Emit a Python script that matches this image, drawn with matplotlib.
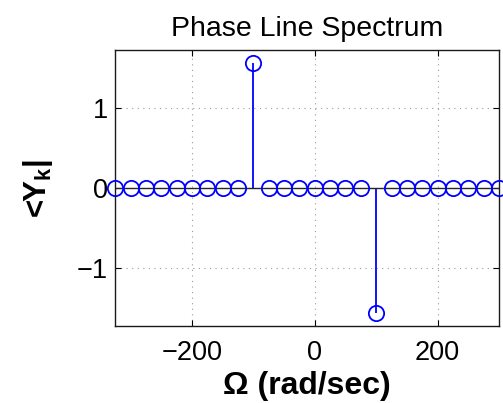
import matplotlib
matplotlib.use("Agg")
import matplotlib.pyplot as plt

# harmonic frequencies (rad/sec) and phase of Y_k (rad)
omega = [-325, -300, -275, -250, -225, -200, -175, -150, -125, -100,
         -75, -50, -25, 0, 25, 50, 75, 100,
         125, 150, 175, 200, 225, 250, 275, 300]
phase = [0, 0, 0, 0, 0, 0, 0, 0, 0, 1.5708,
         0, 0, 0, 0, 0, 0, 0, -1.5708,
         0, 0, 0, 0, 0, 0, 0, 0]

xticks = [-200, 0, 200]
yticks = [-1, 0, 1]

plt.rcParams["font.family"] = ["Liberation Sans", "DejaVu Sans"]
plt.rcParams["mathtext.fontset"] = "custom"
plt.rcParams["mathtext.rm"] = "Liberation Sans"
plt.rcParams["mathtext.bf"] = "Liberation Sans:bold"
plt.rcParams["axes.unicode_minus"] = True

fig = plt.figure(figsize=(5.03, 4.03), dpi=100)
ax = fig.add_axes([0.229, 0.191, 0.763, 0.685])

markerline, stemlines, baseline = ax.stem(omega, phase, linefmt="b-", markerfmt="bo", basefmt="k-")
markerline.set_markerfacecolor("none")
markerline.set_markersize(11)
markerline.set_markeredgewidth(1.3)
markerline.set_clip_on(False)
markerline.set_zorder(4)
stemlines.set_linewidth(1.3)
baseline.set_linewidth(1.0)
baseline.set_color("0.15")

ax.set_xlim(-325, 300)
ax.set_ylim(-1.73, 1.73)
ax.set_xticks(xticks)
ax.set_yticks(yticks)
ax.grid(True, color="0.6", linestyle=(0, (1, 4)), linewidth=0.8)
ax.tick_params(direction="in", top=True, right=True, length=4, width=0.8, labelsize=19.5)
ax.tick_params(axis="x", pad=10)
ax.tick_params(axis="y", pad=5)
for s in ax.spines.values():
    s.set_linewidth(1.0)
    s.set_color("0.1")

ax.set_title("Phase Line Spectrum", fontsize=20.5, pad=10)
ax.set_xlabel("\u03a9 (rad/sec)", fontsize=23, fontweight="bold", labelpad=4)
ax.set_ylabel(r"<Y$_\mathbf{k}$|", fontsize=22.5, fontweight="bold", labelpad=16)

fig.savefig("out.png", dpi=100)
